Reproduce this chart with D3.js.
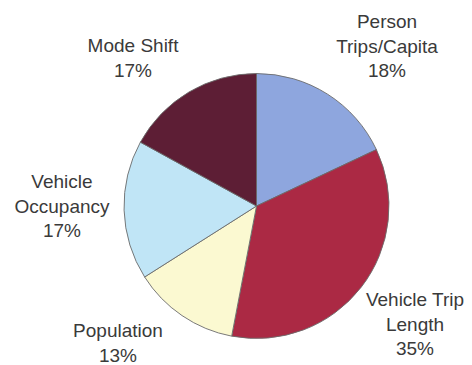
<!DOCTYPE html>
<html>
<head>
<meta charset="utf-8">
<script src="https://cdn.jsdelivr.net/npm/d3@7"></script>
<style>
  html, body { margin: 0; padding: 0; background: #fff; }
  svg { display: block; }
</style>
</head>
<body>
<svg id="chart" width="472" height="365"></svg>
<script>
// Shares of the total, clockwise from 12 o'clock
const categories = ["Person Trips/Capita", "Vehicle Trip Length", "Population", "Vehicle Occupancy", "Mode Shift"];
const shares = [18, 35, 13, 17, 17];
// Label lines for each slice (category name wrapped, then the percentage)
const labelLines = [
  ["Person", "Trips/Capita"],
  ["Vehicle Trip", "Length"],
  ["Population"],
  ["Vehicle", "Occupancy"],
  ["Mode Shift"]
];
const sliceColors = ["#8ea6de", "#ab2944", "#fbf9d1", "#c0e5f6", "#5d1e35"];

// Layout
const width = 472, height = 365;
const cx = 256.5, cy = 206, radius = 132.5;
// Centre of each label block (x) and baseline of its first line (y)
const labelAnchors = [
  [387, 28], [415, 306], [118, 337], [62, 188], [133, 52]
];
const lineHeight = 24.5;

const svg = d3.select("#chart");

const pie = d3.pie().sort(null).value(d => d.value).startAngle(0).endAngle(2 * Math.PI);
const arc = d3.arc().innerRadius(0).outerRadius(radius);

const data = categories.map((c, i) => ({ name: c, value: shares[i], color: sliceColors[i], lines: labelLines[i] }));
const arcs = pie(data);

const g = svg.append("g").attr("transform", `translate(${cx},${cy})`);

g.selectAll("path.slice")
  .data(arcs)
  .join("path")
  .attr("class", "slice")
  .attr("d", arc)
  .attr("fill", d => d.data.color)
  .attr("stroke", "#6b6b6b")
  .attr("stroke-width", 0.9)
  .attr("stroke-linejoin", "round");

const fmt = d => `${d.data.value}%`;

const labels = svg.selectAll("text.label")
  .data(arcs)
  .join("text")
  .attr("class", "label")
  .attr("text-anchor", "middle")
  .attr("font-family", "'Liberation Sans', Arial, sans-serif")
  .attr("font-size", 19)
  .attr("fill", "#3a3a3a")
  .attr("transform", (d, i) => `translate(${labelAnchors[i][0]},${labelAnchors[i][1]})`);

labels.each(function(d) {
  const t = d3.select(this);
  const lines = d.data.lines.concat([fmt(d)]);
  lines.forEach((s, k) => {
    t.append("tspan").attr("x", 0).attr("y", k * lineHeight).text(s);
  });
});
</script>
</body>
</html>
